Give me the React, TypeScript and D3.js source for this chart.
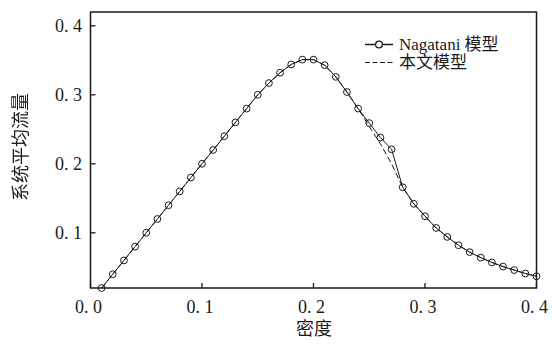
import React, { useRef, useEffect } from "react";
import * as d3 from "d3";

// density (x) and system average flow (y)
const density = [
  0.01, 0.02, 0.03, 0.04, 0.05, 0.06, 0.07, 0.08, 0.09, 0.1,
  0.11, 0.12, 0.13, 0.14, 0.15, 0.16, 0.17, 0.18, 0.19, 0.2,
  0.21, 0.22, 0.23, 0.24, 0.25, 0.26, 0.27, 0.28, 0.29, 0.3,
  0.31, 0.32, 0.33, 0.34, 0.35, 0.36, 0.37, 0.38, 0.39, 0.4,
];
const nagataniFlow = [
  0.02, 0.04, 0.06, 0.08, 0.1, 0.12, 0.14, 0.16, 0.18, 0.2,
  0.22, 0.24, 0.26, 0.28, 0.3, 0.317, 0.332, 0.344, 0.351, 0.351,
  0.343, 0.326, 0.304, 0.28, 0.259, 0.238, 0.221, 0.166, 0.142, 0.124,
  0.107, 0.094, 0.082, 0.072, 0.064, 0.057, 0.051, 0.046, 0.041, 0.037,
];
const thisModelFlow = [
  0.02, 0.04, 0.06, 0.08, 0.1, 0.12, 0.14, 0.16, 0.18, 0.2,
  0.22, 0.24, 0.26, 0.28, 0.3, 0.317, 0.332, 0.344, 0.351, 0.351,
  0.343, 0.326, 0.304, 0.28, 0.254, 0.229, 0.2, 0.166, 0.142, 0.124,
  0.107, 0.094, 0.082, 0.072, 0.064, 0.057, 0.051, 0.046, 0.041, 0.037,
];
const xTicks = [0, 0.1, 0.2, 0.3, 0.4];
const yTicks = [0.1, 0.2, 0.3, 0.4];
const legendLabels = ["Nagatani 模型", "本文模型"];

const FONT = "'Liberation Serif', 'Noto Sans CJK SC', serif";
const INK = "#1a1a1a";

export default function App() {
  const svgRef = useRef(null);
  const width = 552;
  const height = 347;

  useEffect(() => {
    const margin = { top: 12, right: 15.5, bottom: 59, left: 90.5 };
    const svg = d3.select(svgRef.current);
    svg.selectAll("*").remove();
    svg.attr("width", width).attr("height", height);

    // grey filter so the rotated title is not drawn with colour fringes
    svg
      .append("defs")
      .append("filter")
      .attr("id", "gray")
      .append("feColorMatrix")
      .attr("type", "saturate")
      .attr("values", "0");

    const x = d3.scaleLinear().domain([0, 0.4]).range([margin.left, width - margin.right]);
    const y = d3.scaleLinear().domain([0.02, 0.42]).range([height - margin.bottom, margin.top]);

    const line = d3
      .line<number>()
      .x((d, i) => x(density[i]))
      .y((d) => y(d));

    // dashed series (drawn first, solid on top)
    svg
      .append("path")
      .attr("d", line(thisModelFlow))
      .attr("fill", "none")
      .attr("stroke", INK)
      .attr("stroke-width", 1)
      .attr("stroke-dasharray", "6,3");

    svg
      .append("path")
      .attr("d", line(nagataniFlow))
      .attr("fill", "none")
      .attr("stroke", INK)
      .attr("stroke-width", 1);

    svg
      .append("g")
      .selectAll("circle")
      .data(nagataniFlow)
      .join("circle")
      .attr("cx", (d, i) => x(density[i]))
      .attr("cy", (d) => y(d))
      .attr("r", 3.4)
      .attr("fill", "none")
      .attr("stroke", INK)
      .attr("stroke-width", 1);

    // frame
    svg
      .append("rect")
      .attr("x", margin.left)
      .attr("y", margin.top)
      .attr("width", width - margin.left - margin.right)
      .attr("height", height - margin.top - margin.bottom)
      .attr("fill", "none")
      .attr("stroke", INK)
      .attr("stroke-width", 1.5);

    // inward ticks
    const x0 = margin.left;
    const yb = height - margin.bottom;
    svg
      .append("g")
      .selectAll("line")
      .data(xTicks)
      .join("line")
      .attr("x1", (d) => x(d))
      .attr("x2", (d) => x(d))
      .attr("y1", yb)
      .attr("y2", yb - 5)
      .attr("stroke", INK)
      .attr("stroke-width", 1.3);
    svg
      .append("g")
      .selectAll("line")
      .data(yTicks)
      .join("line")
      .attr("x1", x0)
      .attr("x2", x0 + 5)
      .attr("y1", (d) => y(d))
      .attr("y2", (d) => y(d))
      .attr("stroke", INK)
      .attr("stroke-width", 1.3);

    const fmt = (v: number) => d3.format(".1f")(v).replace(".", ". ");

    svg
      .append("g")
      .selectAll("text")
      .data(xTicks)
      .join("text")
      .attr("x", (d) => x(d) - 2)
      .attr("y", 313)
      .attr("text-anchor", "middle")
      .style("font-family", FONT)
      .style("font-size", "18px")
      .attr("fill", INK)
      .text(fmt);

    svg
      .append("g")
      .selectAll("text")
      .data(yTicks)
      .join("text")
      .attr("x", 82)
      .attr("y", (d) => y(d))
      .attr("dy", "0.35em")
      .attr("text-anchor", "end")
      .style("font-family", FONT)
      .style("font-size", "18px")
      .attr("fill", INK)
      .text(fmt);

    // axis titles
    svg
      .append("text")
      .attr("x", 314)
      .attr("y", 335)
      .attr("text-anchor", "middle")
      .style("font-family", FONT)
      .style("font-size", "18px")
      .attr("fill", INK)
      .text("密度");

    svg
      .append("text")
      .attr("transform", "translate(27,147) rotate(-90)")
      .attr("text-anchor", "middle")
      .attr("filter", "url(#gray)")
      .style("font-family", FONT)
      .style("font-size", "18px")
      .attr("fill", INK)
      .text("系统平均流量");

    // legend
    const legend = svg
      .append("g")
      .selectAll("g")
      .data(legendLabels)
      .join("g")
      .attr("transform", (d, i) => `translate(365, ${44.5 + i * 18})`);

    legend
      .append("line")
      .attr("x1", 0)
      .attr("x2", 28)
      .attr("y1", 0)
      .attr("y2", 0)
      .attr("stroke", INK)
      .attr("stroke-width", (d, i) => (i === 0 ? 1.5 : 1))
      .attr("stroke-dasharray", (d, i) => (i === 0 ? null : "5,2.5"));

    legend
      .filter((d, i) => i === 0)
      .append("circle")
      .attr("cx", 14)
      .attr("cy", 0)
      .attr("r", 3.4)
      .attr("fill", "white")
      .attr("stroke", INK)
      .attr("stroke-width", 1.3);

    legend
      .append("text")
      .attr("x", 34)
      .attr("y", 0)
      .attr("dy", "0.35em")
      .style("font-family", FONT)
      .style("font-size", "17px")
      .attr("fill", INK)
      .text((d) => d);
  }, []);

  return <svg ref={svgRef} style={{ position: "absolute", left: 0, top: 0 }}></svg>;
}
